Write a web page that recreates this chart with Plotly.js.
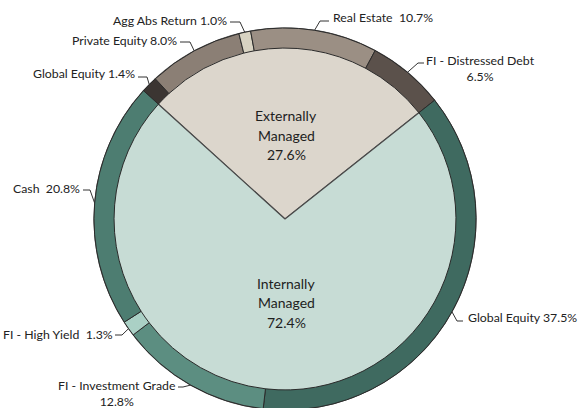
<!DOCTYPE html>
<html><head><meta charset="utf-8">
<script src="https://cdn.plot.ly/plotly-3.0.1.min.js"></script>
<style>html,body{margin:0;padding:0;overflow:hidden;background:#fff}#chart{width:581px;height:420px}</style>
</head><body><div id="chart"></div>
<script>
// ---------- data ----------
const groupNames = ['Externally', 'Internally'];
const groupValues = [27.6, 72.4];
const assetNames = ['Global Equity', 'Private Equity', 'Agg Abs Return', 'Real Estate', 'FI - Distressed Debt',
                    'Global Equity', 'FI - Investment Grade', 'FI - High Yield', 'Cash'];
const assetValues = [1.4, 8.0, 1.0, 10.7, 6.5, 37.5, 12.8, 1.3, 20.8];

// ---------- styles / layout ----------
const groupColors = ['#dcd6cc', '#c7dcd5'];
const assetColors = ['#3b3532', '#8b7f75', '#d8d3c2', '#9b8f84', '#5b514b',
                     '#3f6a60', '#5c8e81', '#aad0c5', '#4d7d71'];
const labelSep = [' ', ' ', ' ', '\u00a0 ', '<br>', ' ', '<br>', '\u00a0 ', '\u00a0 '];
// text anchor (px), xanchor, leader start (px), elbow length (px)
const labelPlace = [
  {x: 137, y: 73,  xa: 'right',  sx: 138, sy: 77,  el: 9},
  {x: 179, y: 40,  xa: 'right',  sx: 180, sy: 42,  el: 10},
  {x: 229, y: 20,  xa: 'right',  sx: 230, sy: 22,  el: 10},
  {x: 331, y: 18,  xa: 'left',   sx: 329, sy: 21,  el: -9},
  {x: 480, y: 69,  xa: 'center', sx: 424, sy: 63,  el: -6},
  {x: 466, y: 317, xa: 'left',   sx: 463, sy: 321, el: -6},
  {x: 117, y: 393, xa: 'center', sx: 178, sy: 387, el: 5},
  {x: 115, y: 334, xa: 'right',  sx: 115, sy: 335, el: 7},
  {x: 82,  y: 189, xa: 'right',  sx: 83,  sy: 190, el: 7}
];
const W = 581, H = 420, CX = 285, CY = 219, R = 191, HOLE = 0.895, START = -47.8;
const FONT = 'Lato, "Open Sans", sans-serif';

const px = x => x / W;
const py = y => 1 - y / H;
const domain = {x: [px(CX - R), px(CX + R)], y: [py(CY + R), py(CY - R)]};

const inner = {
  type: 'pie', values: groupValues, labels: groupNames, sort: false, direction: 'clockwise',
  rotation: START, domain: domain, textinfo: 'none', hoverinfo: 'none', showlegend: false,
  marker: {colors: groupColors, line: {color: '#4a4a4a', width: 1.2}}
};
const outer = {
  type: 'pie', values: assetValues, labels: assetNames.map((n, i) => n + ' #' + i), sort: false,
  direction: 'clockwise', rotation: START, hole: HOLE, domain: domain, textinfo: 'none',
  hoverinfo: 'none', showlegend: false,
  marker: {colors: assetColors, line: {color: '#2b2b2b', width: 1}}
};

const annotations = [];
const shapes = [];
const total = assetValues.reduce((a, b) => a + b, 0);
let cum = 0;
assetValues.forEach((v, i) => {
  const mid = (START + (cum + v / 2) / total * 360) * Math.PI / 180;
  cum += v;
  const ax = CX + R * Math.sin(mid), ay = CY - R * Math.cos(mid);
  const p = labelPlace[i];
  annotations.push({
    xref: 'paper', yref: 'paper', x: px(p.x), y: py(p.y), xanchor: p.xa, yanchor: 'middle',
    text: assetNames[i] + labelSep[i] + v.toFixed(1) + '%', showarrow: false, align: 'center',
    font: {family: FONT, size: 12.3, color: '#222'}
  });
  shapes.push({
    type: 'path', xref: 'paper', yref: 'paper',
    path: `M${px(p.sx)},${py(p.sy)} L${px(p.sx + p.el)},${py(p.sy)} L${px(ax)},${py(ay)}`,
    line: {color: '#333', width: 1}
  });
});

// inner group labels
const gTotal = groupValues.reduce((a, b) => a + b, 0);
let gcum = 0;
groupValues.forEach((v, i) => {
  const mid = (START + (gcum + v / 2) / gTotal * 360) * Math.PI / 180;
  gcum += v;
  const ly = CY - 84 * Math.cos(mid);
  const lines = [groupNames[i], 'Managed', v.toFixed(1) + '%'];
  lines.forEach((t, k) => {
    annotations.push({
      xref: 'paper', yref: 'paper', x: px(CX + 1), y: py(ly + (k - 1) * 19.5), xanchor: 'center',
      yanchor: 'middle', text: t, showarrow: false,
      font: {family: FONT, size: 14, color: '#1e1e1e'}
    });
  });
});

Plotly.newPlot('chart', [inner, outer], {
  width: W, height: H, margin: {l: 0, r: 0, t: 0, b: 0},
  paper_bgcolor: '#fff', plot_bgcolor: '#fff', showlegend: false,
  annotations: annotations, shapes: shapes
}, {staticPlot: true, displayModeBar: false});
</script></body></html>
